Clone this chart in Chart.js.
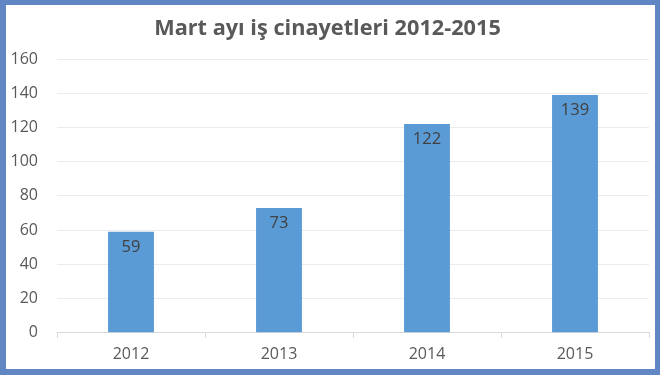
<!DOCTYPE html>
<html><head><meta charset="utf-8">
<script src="https://cdn.jsdelivr.net/npm/chart.js@4/dist/chart.umd.min.js"></script>
<style>
html,body{margin:0;padding:0;background:#fff;}
#frame{width:660px;height:375px;box-sizing:border-box;border-style:solid;border-color:#6186c4;border-width:5px 5px 6px 6px;background:#fff;}
#wrap{width:649px;height:364px;position:relative;}
</style></head><body>
<div id="frame"><div id="wrap"><canvas id="c"></canvas></div></div>
<script>
const categories = ['2012','2013','2014','2015'];
const values = [59, 73, 122, 139];
const yTicks = [0,20,40,60,80,100,120,140,160];
const titleText = 'Mart ayı iş cinayetleri 2012-2015';

const labelPlugin = {
  id:'labels',
  afterDatasetsDraw(chart){
    const ctx = chart.ctx;
    const meta = chart.getDatasetMeta(0);
    ctx.save();
    ctx.font = '16.5px "Open Sans"';
    ctx.fillStyle = '#404040';
    ctx.textAlign = 'center';
    ctx.textBaseline = 'middle';
    meta.data.forEach((b,i)=>{
      ctx.fillText(String(values[i]), b.x, b.y + 15);
    });
    ctx.restore();
  }
};

new Chart(document.getElementById('c'), {
  type:'bar',
  data:{labels:categories, datasets:[{data:values, backgroundColor:'#5b9bd5', barPercentage:0.31, categoryPercentage:1}]},
  options:{
    responsive:true, maintainAspectRatio:false, animation:false,
    layout:{padding:{left:0,right:6,top:11,bottom:2}},
    plugins:{
      legend:{display:false}, tooltip:{enabled:false},
      title:{display:true, text:titleText, color:'#595959', font:{family:'Open Sans', size:21.7, weight:'bold'}, padding:{top:0,bottom:17}}
    },
    scales:{
      x:{
        offset:true,
        afterFit(s){ s.height = s.height - 4; },
        grid:{display:true, drawOnChartArea:false, drawTicks:true, tickLength:5, color:'#d9d9d9', offset:true},
        border:{display:true, color:'#d9d9d9'},
        ticks:{color:'#595959', font:{family:'Open Sans', size:16}, padding:7}
      },
      y:{
        min:0, max:160,
        afterBuildTicks(s){ s.ticks = yTicks.map(v=>({value:v})); },
        afterFit(s){ s.width = 51; },
        grid:{color:'#ebebeb', drawTicks:false},
        border:{display:false},
        ticks:{color:'#595959', font:{family:'Open Sans', size:16}, padding:19}
      }
    }
  },
  plugins:[labelPlugin]
});
</script></body></html>
